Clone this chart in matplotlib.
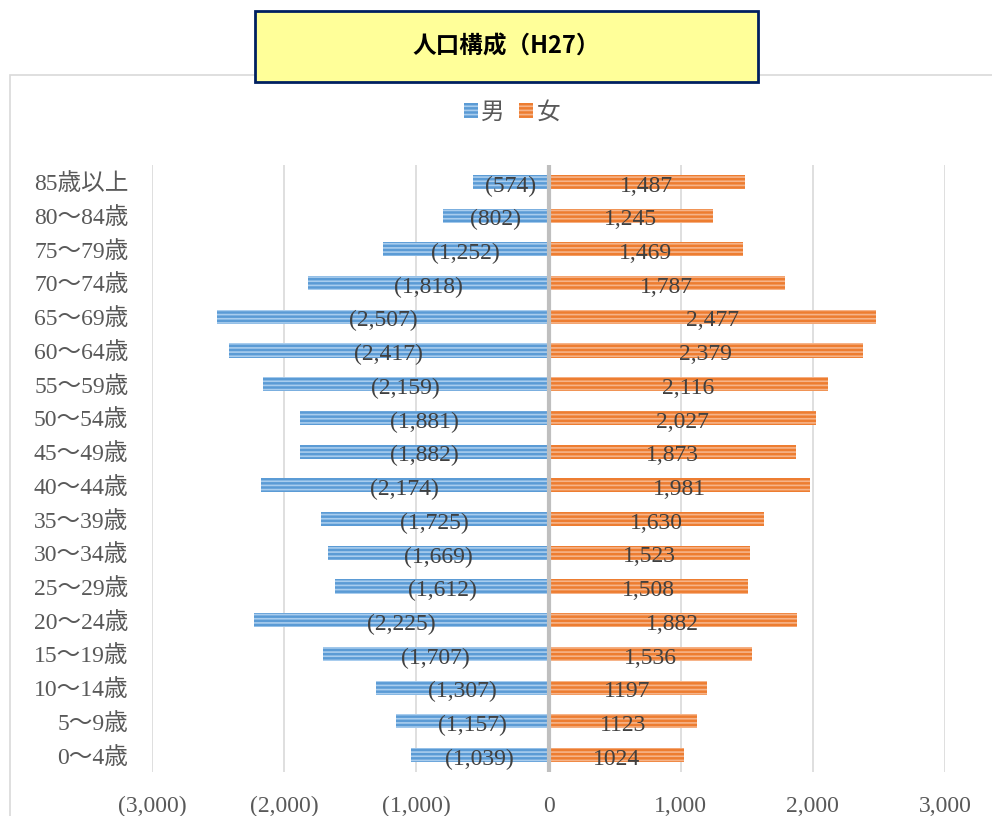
import matplotlib.pyplot as plt
import numpy as np
from matplotlib.patches import Rectangle

plt.rcParams['font.family'] = ['Liberation Serif', 'Noto Sans CJK JP']
plt.rcParams['hatch.linewidth'] = 1.2

ages = ['85歳以上', '80～84歳', '75～79歳', '70～74歳', '65～69歳', '60～64歳',
        '55～59歳', '50～54歳', '45～49歳', '40～44歳', '35～39歳', '30～34歳',
        '25～29歳', '20～24歳', '15～19歳', '10～14歳', '5～9歳', '0～4歳']
male = [574, 802, 1252, 1818, 2507, 2417, 2159, 1881, 1882, 2174, 1725, 1669,
        1612, 2225, 1707, 1307, 1157, 1039]
female = [1487, 1245, 1469, 1787, 2477, 2379, 2116, 2027, 1873, 1981, 1630, 1523,
          1508, 1882, 1536, 1197, 1123, 1024]
female_text = ['1,487', '1,245', '1,469', '1,787', '2,477', '2,379', '2,116', '2,027',
               '1,873', '1,981', '1,630', '1,523', '1,508', '1,882', '1,536',
               '1197', '1123', '1024']
xticks = [-3000, -2000, -1000, 0, 1000, 2000, 3000]
xtick_labels = ['(3,000)', '(2,000)', '(1,000)', '0', '1,000', '2,000', '3,000']

blue = '#5B9BD5'
orange = '#ED7D31'

fig = plt.figure(figsize=(9.92, 8.16), dpi=100)

# outer chart frame
fig.patches.append(Rectangle((10 / 992, -0.1), 1.0, (816 - 75) / 816 + 0.1,
                             transform=fig.transFigure, fill=False,
                             edgecolor='#D9D9D9', lw=1.2, zorder=0))

ax = fig.add_axes([152 / 992, (816 - 772) / 816, (945 - 152) / 992, (772 - 165) / 816])

y = np.arange(len(ages))
m = -np.array(male)
f = np.array(female)

bm = ax.barh(y, m, height=0.42, color=blue, edgecolor='#A9CDEE', hatch='----',
             lw=0, label='男', zorder=2)
bf = ax.barh(y, f, height=0.42, color=orange, edgecolor='#F6B48A', hatch='----',
             lw=0, label='女', zorder=2)

for i in range(len(ages)):
    ax.text(m[i] / 2, y[i] + 0.05, '({:,})'.format(male[i]), ha='center',
            va='center_baseline', fontsize=17, color='#404040', zorder=3)
    ax.text(f[i] / 2, y[i] + 0.05, female_text[i], ha='center',
            va='center_baseline', fontsize=17, color='#404040', zorder=3)

ax.set_xlim(-3000, 3000)
ax.set_ylim(len(ages) - 0.5, -0.5)
ax.set_xticks(xticks)
ax.set_xticklabels(xtick_labels, fontsize=17, color='#595959')
ax.set_yticks(y)
ax.set_yticklabels(ages, fontsize=17, color='#595959')
ax.tick_params(length=0, pad=17, axis='y')
ax.tick_params(length=0, pad=17, axis='x')
ax.grid(axis='x', color='#D9D9D9', lw=1.2, zorder=0)
ax.axvline(0, color='#BFBFBF', lw=3, zorder=4)
for s in ax.spines.values():
    s.set_visible(False)

fig.legend(handles=[bm, bf], loc='center', bbox_to_anchor=(512 / 992, 1 - 113 / 816),
           ncol=2, frameon=False, fontsize=17, handlelength=0.6, handleheight=0.6,
           columnspacing=0.6, handletextpad=0.15, labelcolor='#595959')

# title box
fig.patches.append(Rectangle((255 / 992, 1 - 82 / 816), (758 - 255) / 992, 71 / 816,
                             transform=fig.transFigure, facecolor='#FFFF99',
                             edgecolor='#002060', lw=2, zorder=5))
fig.text(506 / 992, 1 - 47 / 816, '人口構成（H27）', ha='center', va='center',
         fontsize=17, fontweight='bold', family=['Noto Sans CJK JP'], zorder=6)

fig.savefig('out.png', dpi=100)
